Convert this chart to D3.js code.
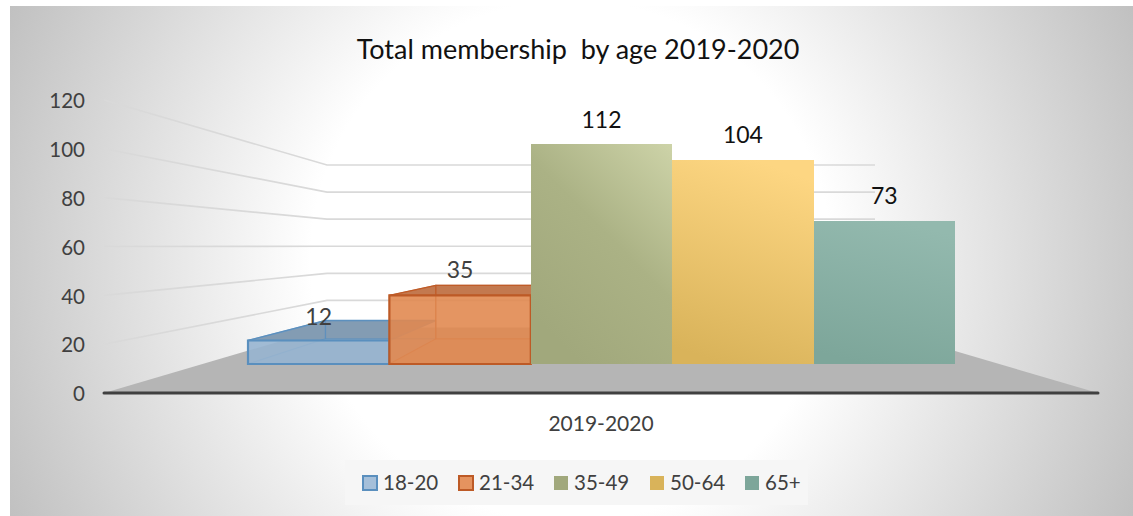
<!DOCTYPE html>
<html>
<head>
<meta charset="utf-8">
<script src="https://cdn.jsdelivr.net/npm/d3@7"></script>
<style>
  html, body { margin: 0; background: #fff; overflow: hidden; }
  svg { display: block; }
  text { font-family: Lato, "Open Sans", sans-serif; white-space: pre; }
</style>
</head>
<body>
<svg id="chart" width="1133" height="516"></svg>
<script>
const chartTitle = "Total membership  by age 2019-2020";
const categoryLabel = "2019-2020";
const ageGroups = ["18-20", "21-34", "35-49", "50-64", "65+"];
const members = [12, 35, 112, 104, 73];
const yTicks = [0, 20, 40, 60, 80, 100, 120];
const frontFill = ["#97b4d0", "#e08850", null, null, null];
const edgeColor = ["#5a8fbe", "#bd5a26", null, null, null];
const topFill = ["#7a92a7", "#b67350", null, null, null];
const solidTop = [null, null, "#cdd3a8", "#fdd682", "#93b9ae"];
const solidBottom = [null, null, "#a1a87c", "#d9b35a", "#7da69a"];
const legendFill = ["#a5bfd9", "#e5935f", "#a1a87c", "#d9b35a", "#7da69a"];

const svg = d3.select("#chart");
const defs = svg.append("defs");

const bg = defs.append("radialGradient").attr("id", "panel")
  .attr("gradientUnits", "userSpaceOnUse")
  .attr("cx", 571).attr("cy", 261).attr("r", 620);
bg.append("stop").attr("offset", 0.42).attr("stop-color", "#ffffff");
bg.append("stop").attr("offset", 1).attr("stop-color", "#c0c0c0");

svg.append("rect").attr("x", 10).attr("y", 6).attr("width", 1123).attr("height", 510)
  .attr("fill", "url(#panel)");

// Three vertical scales: side wall edge, back wall and the front face of the bars.
const yWall = d3.scaleLinear().domain([0, 120]).range([393, 100]);
const yBack = d3.scaleLinear().domain([0, 120]).range([327.5, 165]);
const yBar = d3.scaleLinear().domain([0, 120]).range([364, 128.8]);
const xBar = d3.scaleBand().domain(ageGroups).range([248, 955]);

const wallFrontX = 104, wallBackX = 327, wallRightX = 875, floorRightX = 1098;

// Bars recede toward a single vanishing point.
const vanish = { x: 600, y: 250, k: 0.78 };
const recede = ([x, y]) => [
  vanish.x + (x - vanish.x) * vanish.k,
  vanish.y + (y - vanish.y) * vanish.k
];
const quad = d3.line();

// Floor
svg.append("path")
  .attr("d", quad([[wallFrontX, yWall(0)], [wallBackX, yBack(0)], [wallRightX, yBack(0)], [floorRightX, yWall(0)]]) + "Z")
  .attr("fill", "#b5b5b5");

// Gridlines run along the side wall and across the back wall
svg.append("g").selectAll("path").data(yTicks.slice(1)).join("path")
  .attr("d", t => quad([[wallFrontX, yWall(t)], [wallBackX, yBack(t)], [wallRightX, yBack(t)]]))
  .attr("fill", "none").attr("stroke", "#d9d9d9").attr("stroke-width", 1.6);

// Axis baseline
svg.append("line")
  .attr("x1", wallFrontX).attr("x2", floorRightX)
  .attr("y1", yWall(0)).attr("y2", yWall(0))
  .attr("stroke", "#404040").attr("stroke-width", 3).attr("stroke-linecap", "round");

// Value axis labels
svg.append("g").selectAll("text").data(yTicks).join("text")
  .attr("x", 85).attr("y", t => yWall(t) + 1).attr("dy", "0.35em")
  .attr("text-anchor", "end").attr("font-size", 20.5).attr("fill", "#404040")
  .text(d => d);

// Translucent 3D boxes for the two lowest groups
ageGroups.forEach((g, i) => {
  if (!frontFill[i]) return;
  const x0 = xBar(g), x1 = x0 + xBar.bandwidth();
  const y0 = yBar(0), y1 = yBar(members[i]);
  const fbl = [x0, y0], fbr = [x1, y0], ftl = [x0, y1], ftr = [x1, y1];
  const [bbl, bbr, btl, btr] = [fbl, fbr, ftl, ftr].map(recede);
  const box = svg.append("g").attr("class", "box");
  box.append("path").attr("d", quad([ftl, ftr, btr, btl]) + "Z")
    .attr("fill", topFill[i]).attr("stroke", edgeColor[i]).attr("stroke-width", 1.4);
  box.append("path").attr("d", quad([bbl, bbr, btr, btl]) + "Z")
    .attr("fill", frontFill[i]).attr("fill-opacity", 0.3)
    .attr("stroke", edgeColor[i]).attr("stroke-opacity", 0.7).attr("stroke-width", 1.2);
  box.append("path").attr("d", quad([fbl, bbl, btl, ftl]) + "Z")
    .attr("fill", frontFill[i]).attr("fill-opacity", 0.3)
    .attr("stroke", edgeColor[i]).attr("stroke-opacity", 0.7).attr("stroke-width", 1.2);
  box.append("path").attr("d", quad([fbl, fbr, bbr, bbl]) + "Z")
    .attr("fill", frontFill[i]).attr("fill-opacity", 0.45);
  box.append("path").attr("d", quad([fbl, fbr, ftr, ftl]) + "Z")
    .attr("fill", frontFill[i]).attr("fill-opacity", 0.85)
    .attr("stroke", edgeColor[i]).attr("stroke-width", 2.2);
});

// Flat faces for the three taller groups
ageGroups.forEach((g, i) => {
  if (!solidTop[i]) return;
  const grad = defs.append("linearGradient").attr("id", "face" + i)
    .attr("x1", i === 2 ? 1 : 0.6).attr("y1", 0).attr("x2", 0.35).attr("y2", 1);
  grad.append("stop").attr("offset", 0).attr("stop-color", solidTop[i]);
  grad.append("stop").attr("offset", i === 2 ? 0.5 : 1).attr("stop-color", i === 2 ? "#abb285" : solidBottom[i]);
  if (i === 2) grad.append("stop").attr("offset", 1).attr("stop-color", solidBottom[i]);
  svg.append("rect")
    .attr("x", xBar(g)).attr("width", xBar.bandwidth())
    .attr("y", yBar(members[i])).attr("height", yBar(0) - yBar(members[i]))
    .attr("fill", `url(#face${i})`)
    .attr("shape-rendering", "crispEdges");
});

// Data labels sit a fixed distance above each front face
svg.append("g").selectAll("text").data(ageGroups).join("text")
  .attr("x", g => xBar(g) + xBar.bandwidth() / 2)
  .attr("y", (g, i) => yBar(members[i]) - (i === 0 ? 24 : 25)).attr("dy", "0.35em")
  .attr("text-anchor", "middle").attr("font-size", 23)
  .attr("fill", (g, i) => i < 2 ? "#404040" : "#111")
  .text((g, i) => members[i]);

// Title and category label
svg.append("text").attr("x", 578).attr("y", 50).attr("dy", "0.35em")
  .attr("text-anchor", "middle").attr("font-size", 27).attr("fill", "#111").text(chartTitle);
svg.append("text").attr("x", 601).attr("y", 424).attr("dy", "0.35em")
  .attr("text-anchor", "middle").attr("font-size", 21).attr("fill", "#404040").text(categoryLabel);

// Legend, on its own faint backing panel
svg.append("rect").attr("x", 345).attr("y", 460).attr("width", 463).attr("height", 45)
  .attr("fill", "#f6f6f6");
const legendX = [363, 459, 554, 650, 745];
const legend = svg.append("g").selectAll("g").data(ageGroups).join("g")
  .attr("transform", (g, i) => `translate(${legendX[i]},483)`);
legend.append("rect").attr("x", 0).attr("y", -7).attr("width", 14).attr("height", 14)
  .attr("fill", (g, i) => legendFill[i])
  .attr("stroke", (g, i) => edgeColor[i] || "none").attr("stroke-width", 2);
legend.append("text").attr("x", 20).attr("dy", "0.35em")
  .attr("font-size", 20.5).attr("fill", "#404040").text(g => g);
</script>
</body>
</html>
